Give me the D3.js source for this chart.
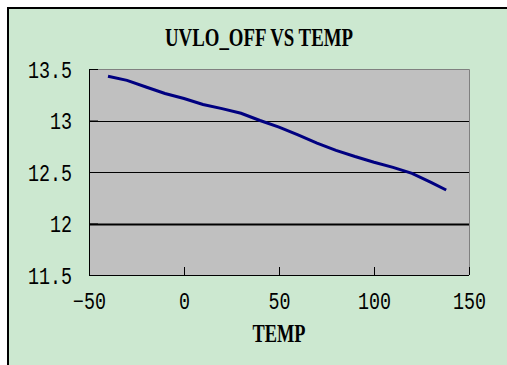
<!DOCTYPE html>
<html>
<head>
<meta charset="utf-8">
<script src="https://cdn.jsdelivr.net/npm/d3@7"></script>
<style>
body { margin: 0; background: #fff; }
.tick-label { font-family: "Liberation Mono", "DejaVu Sans Mono", monospace; font-size: 23px; fill: #000; }
.title { font-family: "Liberation Serif", serif; font-weight: bold; font-size: 25px; fill: #000; }
</style>
</head>
<body>
<div class="chart"></div>
<script>
// data
const temps = [-40, -30, -20, -10, 0, 10, 20, 30, 40, 50, 60, 70, 80, 90, 100, 110, 120, 130, 138];
const uvloOff = [13.43, 13.39, 13.325, 13.262, 13.213, 13.155, 13.115, 13.07, 13.0, 12.935, 12.86, 12.78, 12.71, 12.65, 12.595, 12.545, 12.486, 12.4, 12.325];
const xTicks = [-50, 0, 50, 100, 150];
const yTicks = [11.5, 12, 12.5, 13, 13.5];
const gridLines = [12, 12.5, 13];

const W = 507, H = 365;
const margin = ({top: 69, right: 38, bottom: 90, left: 89});
const width = W - margin.left - margin.right,
    height = H - margin.top - margin.bottom;

const root = d3.select(".chart").append("svg")
    .attr("width", W)
    .attr("height", H);

// chart frame
root.append("rect")
    .attr("x", 8).attr("y", 8)
    .attr("width", W).attr("height", H)
    .attr("fill", "#cce8d0");
root.append("line")
    .attr("x1", 7).attr("x2", W).attr("y1", 8).attr("y2", 8)
    .attr("stroke", "#000").attr("stroke-width", 2);
root.append("line")
    .attr("x1", 8).attr("x2", 8).attr("y1", 7).attr("y2", H)
    .attr("stroke", "#000").attr("stroke-width", 2);

// title
root.append("text")
    .attr("class", "title")
    .attr("x", 165).attr("y", 46)
    .attr("textLength", 188)
    .attr("lengthAdjust", "spacingAndGlyphs")
    .text("UVLO_OFF VS TEMP");

const svg = root.append("g")
    .attr("transform", "translate(" + margin.left + "," + margin.top + ")");

// Scaling
const xScale = d3.scaleLinear().domain([-50, 150]).range([0, width]);
const yScale = d3.scaleLinear().domain([11.5, 13.5]).range([height, 0]);

// plot area
svg.append("rect")
    .attr("width", width).attr("height", height)
    .attr("fill", "#c0c0c0");
svg.append("path")
    .attr("d", "M0.5,0.5H" + (width + 0.5) + "V" + height)
    .attr("fill", "none")
    .attr("stroke", "#808080");

// gridlines
svg.selectAll(".grid")
    .data(gridLines)
    .enter().append("line")
    .attr("class", "grid")
    .attr("x1", 0).attr("x2", width)
    .attr("y1", d => Math.round(yScale(d)) + 0.5)
    .attr("y2", d => Math.round(yScale(d)) + 0.5)
    .attr("stroke", "#000")
    .attr("stroke-width", d => d === 12 ? 2 : 1);

// Axis
const xAxis = d3.axisBottom(xScale).tickValues(xTicks).tickSize(-8).tickPadding(10).tickFormat(d3.format("d"));
const yAxis = d3.axisLeft(yScale).tickValues(yTicks).tickSize(-9).tickPadding(17).tickFormat(d => String(d));

const gx = svg.append("g")
    .attr("transform", "translate(0," + height + ")")
    .call(xAxis);
const gy = svg.append("g").call(yAxis);

[gx, gy].forEach(g => {
    g.select(".domain").attr("stroke", "#000");
    g.selectAll(".tick line").attr("stroke", "#000");
    g.selectAll(".tick text")
        .attr("class", "tick-label")
        .attr("font-family", null).attr("font-size", null)
        .attr("textLength", function () { return this.textContent.length * 11; })
        .attr("lengthAdjust", "spacingAndGlyphs");
});
gx.select(".domain").attr("d", "M0.5,0.5H" + width);
gy.select(".domain").attr("d", "M0.5,0.5V" + height);
gx.selectAll(".tick text").attr("y", 26).attr("dy", "0.36em");
gy.selectAll(".tick text").attr("dy", "0.36em");

// axis title
svg.append("text")
    .attr("class", "title")
    .attr("x", width / 2 - 26.5).attr("y", 342 - margin.top)
    .attr("textLength", 53)
    .attr("lengthAdjust", "spacingAndGlyphs")
    .text("TEMP");

// data line
const line = d3.line()
    .x((d, i) => xScale(temps[i]))
    .y(d => yScale(d));

svg.append("path")
    .datum(uvloOff)
    .attr("fill", "none")
    .attr("stroke", "#000080")
    .attr("stroke-width", 3)
    .attr("d", line);
</script>
</body>
</html>
